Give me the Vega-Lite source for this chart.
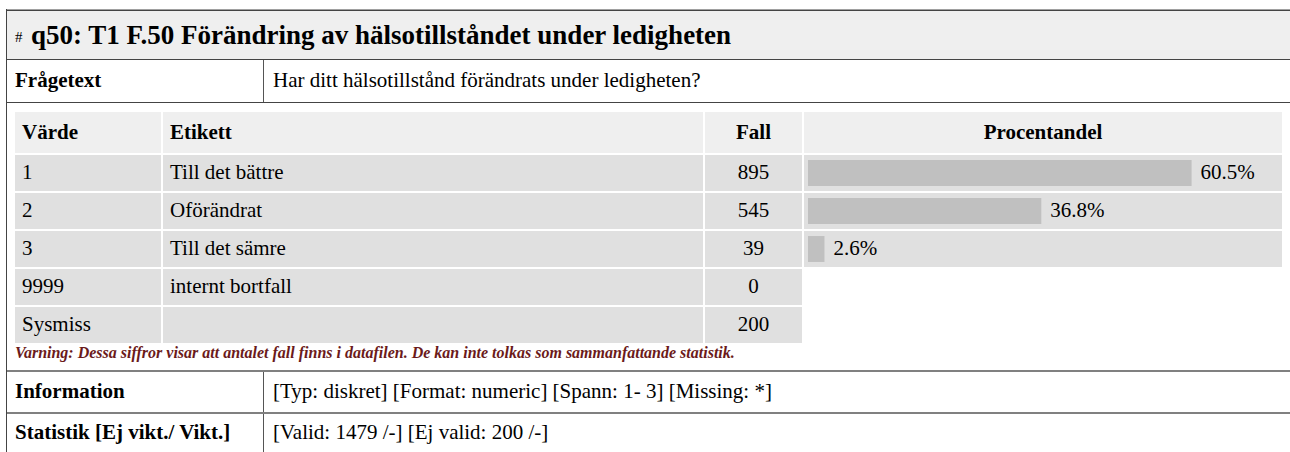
{
  "$schema": "https://vega.github.io/schema/vega-lite/v6.json",
  "padding": {"left": 6, "top": 9, "right": 0, "bottom": 0},
  "background": "#ffffff",
  "config": {
    "view": {"stroke": null},
    "concat": {"spacing": 0},
    "text": {"font": "Liberation Serif", "fontSize": 21, "color": "#000000", "baseline": "middle"}
  },
  "datasets": {
    "rader": [
      {"varde": "1", "etikett": "Till det bättre", "fall": 895, "andel": 0.605},
      {"varde": "2", "etikett": "Oförändrat", "fall": 545, "andel": 0.368},
      {"varde": "3", "etikett": "Till det sämre", "fall": 39, "andel": 0.026},
      {"varde": "9999", "etikett": "internt bortfall", "fall": 0, "andel": null},
      {"varde": "Sysmiss", "etikett": "", "fall": 200, "andel": null}
    ]
  },
  "hconcat": [
    {"width": 1, "height": 443, "data": {"values": []}, "mark": "rect", "encoding": {}, "view": {"fill": "#444444"}},
    {
      "vconcat": [
        {"width": 1283, "height": 1, "data": {"values": []}, "mark": "rect", "encoding": {}, "view": {"fill": "#a0a0a0"}},
        {"width": 1283, "height": 1, "data": {"values": []}, "mark": "rect", "encoding": {}, "view": {"fill": "#444444"}},
        {
          "width": 1283, "height": 48, "view": {"fill": "#efefef"}, "data": {"values": [{}]},
          "layer": [
            {"mark": {"type": "text", "text": "#", "align": "left", "fontSize": 15, "baseline": "alphabetic", "dx": 8, "dy": 7},
             "encoding": {"x": {"datum": 0, "type": "quantitative", "scale": {"domain": [0, 1]}, "axis": null}}},
            {"mark": {"type": "text", "text": "q50: T1 F.50 Förändring av hälsotillståndet under ledigheten", "align": "left", "fontSize": 27, "fontWeight": "bold", "baseline": "alphabetic", "dx": 24, "dy": 9},
             "encoding": {"x": {"datum": 0, "type": "quantitative", "scale": {"domain": [0, 1]}, "axis": null}}}
          ]
        },
        {"width": 1283, "height": 1, "data": {"values": []}, "mark": "rect", "encoding": {}, "view": {"fill": "#444444"}},
        {
          "hconcat": [
            {"width": 256, "height": 42, "data": {"values": [{}]},
             "mark": {"type": "text", "text": "Frågetext", "fontWeight": "bold", "align": "left", "dx": 8},
             "encoding": {"x": {"datum": 0, "type": "quantitative", "scale": {"domain": [0, 1]}, "axis": null}}},
            {"width": 1, "height": 42, "data": {"values": []}, "mark": "rect", "encoding": {}, "view": {"fill": "#555555"}},
            {"width": 1026, "height": 42, "data": {"values": [{}]},
             "mark": {"type": "text", "text": "Har ditt hälsotillstånd förändrats under ledigheten?", "align": "left", "dx": 9},
             "encoding": {"x": {"datum": 0, "type": "quantitative", "scale": {"domain": [0, 1]}, "axis": null}}}
          ]
        },
        {"width": 1283, "height": 1, "data": {"values": []}, "mark": "rect", "encoding": {}, "view": {"fill": "#444444"}},
        {"width": 1283, "height": 9, "data": {"values": []}, "mark": "rect", "encoding": {}},
        {
          "spacing": 2,
          "vconcat": [
            {
              "spacing": 2,
              "hconcat": [
                {"width": 6, "height": 41, "data": {"values": []}, "mark": "rect", "encoding": {}},
                {"width": 146, "height": 41, "view": {"fill": "#efefef"}, "data": {"values": [{}]},
                 "mark": {"type": "text", "text": "Värde", "fontWeight": "bold", "align": "left", "dx": 7},
                 "encoding": {"x": {"datum": 0, "type": "quantitative", "scale": {"domain": [0, 1]}, "axis": null}}},
                {"width": 540, "height": 41, "view": {"fill": "#efefef"}, "data": {"values": [{}]},
                 "mark": {"type": "text", "text": "Etikett", "fontWeight": "bold", "align": "left", "dx": 7},
                 "encoding": {"x": {"datum": 0, "type": "quantitative", "scale": {"domain": [0, 1]}, "axis": null}}},
                {"width": 97, "height": 41, "view": {"fill": "#efefef"}, "data": {"values": [{}]},
                 "mark": {"type": "text", "text": "Fall", "fontWeight": "bold", "align": "center"}, "encoding": {}},
                {"width": 478, "height": 41, "view": {"fill": "#efefef"}, "data": {"values": [{}]},
                 "mark": {"type": "text", "text": "Procentandel", "fontWeight": "bold", "align": "center"}, "encoding": {}}
              ]
            },
            {
              "spacing": 2,
              "hconcat": [
                {"width": 6, "height": 188, "data": {"values": []}, "mark": "rect", "encoding": {}},
                {"width": 146, "height": 188, "data": {"name": "rader"},
                 "layer": [
                   {"mark": {"type": "rect", "fill": "#e0e0e0"},
                    "encoding": {"y": {"field": "varde", "type": "nominal", "sort": null, "scale": {"domain": ["1", "2", "3", "9999", "Sysmiss"], "paddingInner": 0.0526, "paddingOuter": 0}, "axis": null}}},
                   {"mark": {"type": "text", "align": "left", "dx": 7},
                    "encoding": {
                      "y": {"field": "varde", "type": "nominal", "sort": null, "scale": {"domain": ["1", "2", "3", "9999", "Sysmiss"], "paddingInner": 0.0526, "paddingOuter": 0}, "axis": null},
                      "x": {"datum": 0, "type": "quantitative", "scale": {"domain": [0, 1]}, "axis": null},
                      "text": {"field": "varde", "type": "nominal"}}}
                 ],
                 "resolve": {"scale": {"x": "independent"}}},
                {"width": 540, "height": 188, "data": {"name": "rader"},
                 "layer": [
                   {"mark": {"type": "rect", "fill": "#e0e0e0"},
                    "encoding": {"y": {"field": "varde", "type": "nominal", "sort": null, "scale": {"domain": ["1", "2", "3", "9999", "Sysmiss"], "paddingInner": 0.0526, "paddingOuter": 0}, "axis": null}}},
                   {"mark": {"type": "text", "align": "left", "dx": 7},
                    "encoding": {
                      "y": {"field": "varde", "type": "nominal", "sort": null, "scale": {"domain": ["1", "2", "3", "9999", "Sysmiss"], "paddingInner": 0.0526, "paddingOuter": 0}, "axis": null},
                      "x": {"datum": 0, "type": "quantitative", "scale": {"domain": [0, 1]}, "axis": null},
                      "text": {"field": "etikett", "type": "nominal"}}}
                 ],
                 "resolve": {"scale": {"x": "independent"}}},
                {"width": 97, "height": 188, "data": {"name": "rader"},
                 "layer": [
                   {"mark": {"type": "rect", "fill": "#e0e0e0"},
                    "encoding": {"y": {"field": "varde", "type": "nominal", "sort": null, "scale": {"domain": ["1", "2", "3", "9999", "Sysmiss"], "paddingInner": 0.0526, "paddingOuter": 0}, "axis": null}}},
                   {"mark": {"type": "text", "align": "center"},
                    "encoding": {
                      "y": {"field": "varde", "type": "nominal", "sort": null, "scale": {"domain": ["1", "2", "3", "9999", "Sysmiss"], "paddingInner": 0.0526, "paddingOuter": 0}, "axis": null},
                      "text": {"field": "fall", "type": "quantitative"}}}
                 ]},
                {"width": 478, "height": 188, "data": {"name": "rader"},
                 "transform": [{"filter": "isValid(datum.andel)"}],
                 "layer": [
                   {"mark": {"type": "rect", "fill": "#e0e0e0"},
                    "encoding": {"y": {"field": "varde", "type": "nominal", "sort": null, "scale": {"domain": ["1", "2", "3", "9999", "Sysmiss"], "paddingInner": 0.0526, "paddingOuter": 0}, "axis": null}}},
                   {"mark": {"type": "bar", "fill": "#c0c0c0", "height": {"band": 0.72}},
                    "encoding": {
                      "y": {"field": "varde", "type": "nominal", "sort": null, "scale": {"domain": ["1", "2", "3", "9999", "Sysmiss"], "paddingInner": 0.0526, "paddingOuter": 0}, "axis": null},
                      "x": {"field": "andel", "type": "quantitative", "scale": {"domain": [-0.0063, 0.7476], "nice": false, "zero": false}, "axis": null}}},
                   {"mark": {"type": "text", "align": "left", "dx": 9},
                    "encoding": {
                      "y": {"field": "varde", "type": "nominal", "sort": null, "scale": {"domain": ["1", "2", "3", "9999", "Sysmiss"], "paddingInner": 0.0526, "paddingOuter": 0}, "axis": null},
                      "x": {"field": "andel", "type": "quantitative", "scale": {"domain": [-0.0063, 0.7476], "nice": false, "zero": false}, "axis": null},
                      "text": {"field": "andel", "type": "quantitative", "format": ".1%"}}}
                 ],
                 "resolve": {"scale": {"x": "independent"}}}
              ]
            }
          ]
        },
        {"width": 1283, "height": 27, "data": {"values": [{}]},
         "mark": {"type": "text", "text": "Varning: Dessa siffror visar att antalet fall finns i datafilen. De kan inte tolkas som sammanfattande statistik.", "align": "left", "fontSize": 16, "fontWeight": "bold", "fontStyle": "italic", "color": "#6b1a1a", "dx": 8, "dy": -4},
         "encoding": {"x": {"datum": 0, "type": "quantitative", "scale": {"domain": [0, 1]}, "axis": null}}},
        {"width": 1283, "height": 2, "data": {"values": []}, "mark": "rect", "encoding": {}, "view": {"fill": "#808080"}},
        {
          "hconcat": [
            {"width": 256, "height": 40, "data": {"values": [{}]},
             "mark": {"type": "text", "text": "Information", "fontWeight": "bold", "align": "left", "dx": 8},
             "encoding": {"x": {"datum": 0, "type": "quantitative", "scale": {"domain": [0, 1]}, "axis": null}}},
            {"width": 1, "height": 40, "data": {"values": []}, "mark": "rect", "encoding": {}, "view": {"fill": "#555555"}},
            {"width": 1026, "height": 40, "data": {"values": [{}]},
             "mark": {"type": "text", "text": "[Typ: diskret] [Format: numeric] [Spann: 1- 3] [Missing: *]", "align": "left", "dx": 9},
             "encoding": {"x": {"datum": 0, "type": "quantitative", "scale": {"domain": [0, 1]}, "axis": null}}}
          ]
        },
        {"width": 1283, "height": 2, "data": {"values": []}, "mark": "rect", "encoding": {}, "view": {"fill": "#808080"}},
        {
          "hconcat": [
            {"width": 256, "height": 38, "data": {"values": [{}]},
             "mark": {"type": "text", "text": "Statistik [Ej vikt./ Vikt.]", "fontWeight": "bold", "align": "left", "dx": 8},
             "encoding": {"x": {"datum": 0, "type": "quantitative", "scale": {"domain": [0, 1]}, "axis": null}}},
            {"width": 1, "height": 38, "data": {"values": []}, "mark": "rect", "encoding": {}, "view": {"fill": "#555555"}},
            {"width": 1026, "height": 38, "data": {"values": [{}]},
             "mark": {"type": "text", "text": "[Valid: 1479 /-] [Ej valid: 200 /-]", "align": "left", "dx": 9},
             "encoding": {"x": {"datum": 0, "type": "quantitative", "scale": {"domain": [0, 1]}, "axis": null}}}
          ]
        }
      ]
    }
  ]
}
